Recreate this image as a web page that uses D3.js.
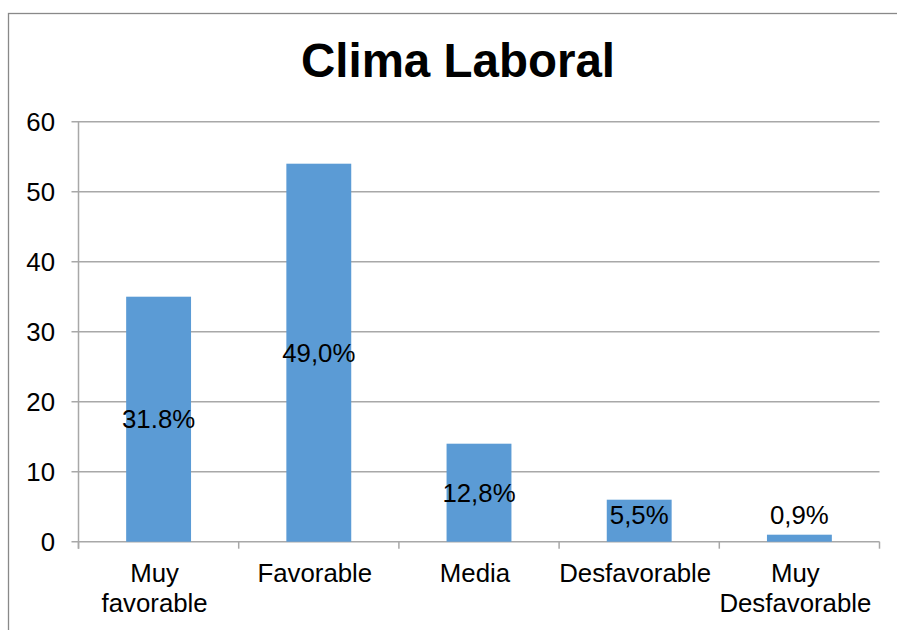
<!DOCTYPE html>
<html>
<head>
<meta charset="utf-8">
<script src="https://cdnjs.cloudflare.com/ajax/libs/d3/7.8.5/d3.min.js"></script>
<style>
  html, body { margin: 0; padding: 0; background: #fff; }
  svg { display: block; font-family: "Liberation Sans", Arial, sans-serif; }
</style>
</head>
<body>
<svg id="chart" width="897" height="630"></svg>
<script>
// Survey results: number of responses per work-climate rating
const categories = ["Muy favorable", "Favorable", "Media", "Desfavorable", "Muy Desfavorable"];
const categoryLines = [["Muy", "favorable"], ["Favorable"], ["Media"], ["Desfavorable"], ["Muy", "Desfavorable"]];
const counts = [35, 54, 14, 6, 1];
const percentLabels = ["31.8%", "49,0%", "12,8%", "5,5%", "0,9%"];
const yTicks = [0, 10, 20, 30, 40, 50, 60];
const chartTitle = "Clima Laboral";

const svg = d3.select("#chart");
const W = 897, H = 630;
const plot = { left: 78.5, right: 879.5, top: 121.7, bottom: 541.7 };
const labelSize = 25.8;

// outer chart frame (runs past the right and bottom edges)
svg.append("rect")
  .attr("x", 8.5).attr("y", 13.5)
  .attr("width", W + 20).attr("height", H + 20)
  .attr("fill", "#fff").attr("stroke", "#898989").attr("stroke-width", 1.3);

const x = d3.scaleBand().domain(categories).range([plot.left, plot.right]).padding(0);
const y = d3.scaleLinear().domain([0, 60]).range([plot.bottom, plot.top]);

// horizontal gridlines with short tick stubs left of the axis
svg.append("g").selectAll("line").data(yTicks).join("line")
  .attr("x1", plot.left - 7).attr("x2", plot.right)
  .attr("y1", d => y(d)).attr("y2", d => y(d))
  .attr("stroke", "#a8a8a8").attr("stroke-width", 1.5);

// vertical value axis line
svg.append("line")
  .attr("x1", plot.left).attr("x2", plot.left)
  .attr("y1", plot.top).attr("y2", plot.bottom + 7)
  .attr("stroke", "#a8a8a8").attr("stroke-width", 1.5);

// category boundary ticks below the baseline
const bounds = categories.map(c => x(c)).concat([plot.right]);
svg.append("g").selectAll("line").data(bounds).join("line")
  .attr("x1", d => d).attr("x2", d => d)
  .attr("y1", plot.bottom).attr("y2", plot.bottom + 7)
  .attr("stroke", "#a8a8a8").attr("stroke-width", 1.5);

// y tick labels
svg.append("g").selectAll("text").data(yTicks).join("text")
  .attr("x", 55).attr("y", d => y(d))
  .attr("dy", "0.35em")
  .attr("text-anchor", "end")
  .attr("font-size", labelSize).attr("fill", "#000")
  .text(d => d);

// bars
const barW = x.bandwidth() * 0.405;
svg.append("g").selectAll("rect").data(counts).join("rect")
  .attr("x", (d, i) => x(categories[i]) + x.bandwidth() / 2 - barW / 2)
  .attr("y", d => y(d))
  .attr("width", barW)
  .attr("height", d => y(0) - y(d))
  .attr("fill", "#5b9bd5");

// percentage labels, centred in each bar but kept clear of the baseline
svg.append("g").selectAll("text").data(counts).join("text")
  .attr("x", (d, i) => x(categories[i]) + x.bandwidth() / 2)
  .attr("y", d => Math.min((y(d) + y(0)) / 2, y(0) - 27))
  .attr("dy", "0.35em")
  .attr("text-anchor", "middle")
  .attr("font-size", labelSize).attr("fill", "#000")
  .text((d, i) => percentLabels[i]);

// category labels (wrapped)
const cat = svg.append("g").selectAll("text").data(categoryLines).join("text")
  .attr("text-anchor", "middle")
  .attr("font-size", labelSize).attr("fill", "#000");
cat.each(function(lines, i) {
  const cx = x(categories[i]) + x.bandwidth() / 2 - 4;
  d3.select(this).selectAll("tspan").data(lines).join("tspan")
    .attr("x", cx)
    .attr("y", (l, j) => 582 + j * 30)
    .text(l => l);
});

// title
svg.append("text")
  .attr("x", 458).attr("y", 77)
  .attr("text-anchor", "middle")
  .attr("font-size", 47.5).attr("font-weight", "bold").attr("fill", "#000")
  .text(chartTitle);
</script>
</body>
</html>
